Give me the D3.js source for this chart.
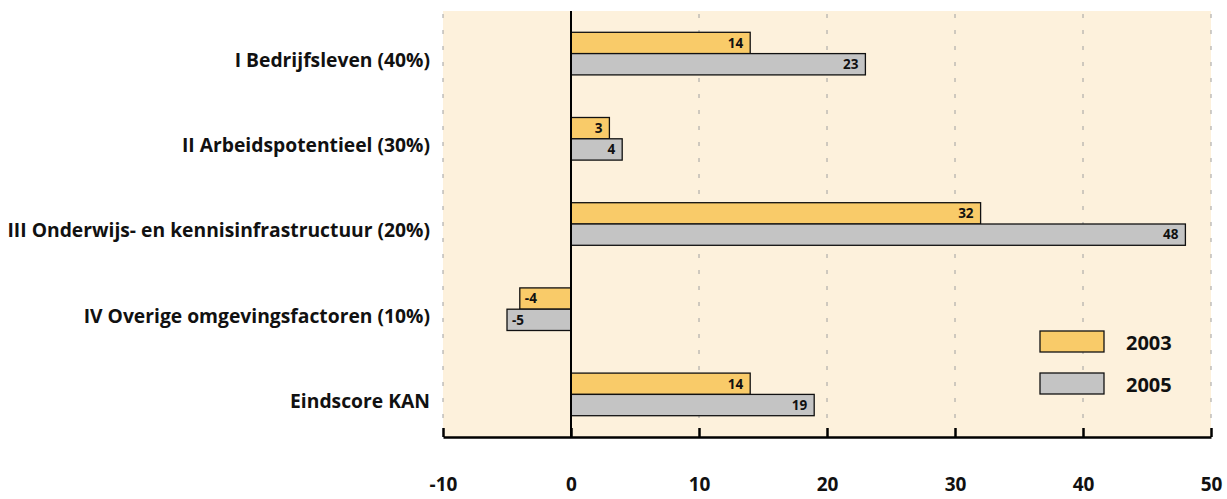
<!DOCTYPE html>
<html>
<head>
<meta charset="utf-8">
<script src="https://cdn.jsdelivr.net/npm/d3@7"></script>
<style>
  body { margin: 0; background: #fff; }
  svg { font-family: 'Open Sans', sans-serif; font-weight: bold; }
</style>
</head>
<body>
<div id="chart"></div>
<script>
// data
const categories = [
    'I Bedrijfsleven (40%)',
    'II Arbeidspotentieel (30%)',
    'III Onderwijs- en kennisinfrastructuur (20%)',
    'IV Overige omgevingsfactoren (10%)',
    'Eindscore KAN'
];
const years = ['2003', '2005'];
const values2003 = [14, 3, 32, -4, 14];
const values2005 = [23, 4, 48, -5, 19];
const xTicks = [-10, 0, 10, 20, 30, 40, 50];

const graphConfig = {
    width: 1227,
    height: 499,
    margin: {top: 11, right: 16, bottom: 62, left: 443}
};
const colors = {'2003': '#f9cb69', '2005': '#c4c4c4'};

const rows = categories.map((c, i) => ({cat: c, '2003': values2003[i], '2005': values2005[i]}));

const svg = d3.select('#chart')
    .append('svg')
    .attr('width', graphConfig.width)
    .attr('height', graphConfig.height);

const plotBottom = graphConfig.height - graphConfig.margin.bottom;
const plotRight = graphConfig.width - graphConfig.margin.right;

// scales
const scaleX = d3.scaleLinear()
    .domain([-10, 50])
    .range([graphConfig.margin.left, plotRight]);

const scaleY = d3.scaleBand()
    .domain(categories)
    .range([graphConfig.margin.top, plotBottom])
    .paddingInner(0.5)
    .paddingOuter(0.25);

const scaleInner = d3.scaleBand()
    .domain(years)
    .range([0, scaleY.bandwidth()]);

// background
svg.append('rect')
    .attr('x', scaleX(-10))
    .attr('y', graphConfig.margin.top)
    .attr('width', scaleX(50) - scaleX(-10))
    .attr('height', plotBottom - graphConfig.margin.top)
    .attr('fill', '#fdf1dc');

// dashed grid
svg.append('g')
    .selectAll('line')
    .data(xTicks.filter(d => d !== 0))
    .join('line')
    .attr('x1', d => scaleX(d))
    .attr('x2', d => scaleX(d))
    .attr('y1', graphConfig.margin.top)
    .attr('y2', plotBottom - 8)
    .attr('stroke', '#a0a0a0')
    .attr('stroke-width', 1)
    .attr('stroke-dasharray', '4,12')
    .attr('stroke-dashoffset', -3);

// bars
const groups = svg.append('g')
    .selectAll('g')
    .data(rows)
    .join('g')
    .attr('transform', d => `translate(0, ${scaleY(d.cat)})`);

years.forEach(y => {
    groups.append('rect')
        .attr('x', d => scaleX(Math.min(0, d[y])))
        .attr('y', scaleInner(y))
        .attr('width', d => Math.abs(scaleX(d[y]) - scaleX(0)))
        .attr('height', scaleInner.bandwidth())
        .attr('fill', colors[y])
        .attr('stroke', '#111')
        .attr('stroke-width', 1.3);

    groups.append('text')
        .attr('x', d => d[y] >= 0 ? scaleX(d[y]) - 7 : scaleX(d[y]) + 5)
        .attr('y', scaleInner(y) + scaleInner.bandwidth() / 2)
        .attr('dy', '0.36em')
        .attr('text-anchor', d => d[y] >= 0 ? 'end' : 'start')
        .style('font-size', '13.5px')
        .style('fill', '#111')
        .text(d => d[y]);
});

// zero line
svg.append('line')
    .attr('x1', scaleX(0))
    .attr('x2', scaleX(0))
    .attr('y1', graphConfig.margin.top)
    .attr('y2', plotBottom)
    .attr('stroke', '#000')
    .attr('stroke-width', 2);

// category labels (sit a little below the band centre, as in the original)
svg.append('g')
    .selectAll('text')
    .data(categories)
    .join('text')
    .attr('x', 430)
    .attr('y', d => scaleY(d) + scaleY.bandwidth() / 2 + 6.5)
    .attr('dy', '0.36em')
    .attr('text-anchor', 'end')
    .style('font-size', '19.3px')
    .style('fill', '#111')
    .text(d => d);

// bottom axis
const axis = svg.append('g')
    .attr('transform', `translate(0, ${plotBottom})`)
    .call(d3.axisBottom(scaleX)
        .tickValues(xTicks)
        .tickFormat(d => String(d))
        .tickSize(-9)
        .tickSizeOuter(0)
        .tickPadding(41));
axis.select('.domain').attr('stroke', '#000').attr('stroke-width', 2.5);
axis.selectAll('.tick line').attr('stroke', '#000').attr('stroke-width', 2.5);
axis.selectAll('.tick text')
    .attr('dy', '0.71em')
    .style('font-family', "'Open Sans', sans-serif")
    .style('font-weight', 'bold')
    .style('font-size', '19px')
    .style('fill', '#111');

// legend
const legend = svg.append('g')
    .selectAll('g')
    .data(years)
    .join('g')
    .attr('transform', (d, i) => `translate(1040, ${331 + i * 42})`);
legend.append('rect')
    .attr('width', 64)
    .attr('height', 21)
    .attr('fill', d => colors[d])
    .attr('stroke', '#111')
    .attr('stroke-width', 1.3);
legend.append('text')
    .attr('x', 86)
    .attr('y', 12)
    .attr('dy', '0.36em')
    .style('font-size', '20px')
    .style('fill', '#111')
    .text(d => d);
</script>
</body>
</html>
